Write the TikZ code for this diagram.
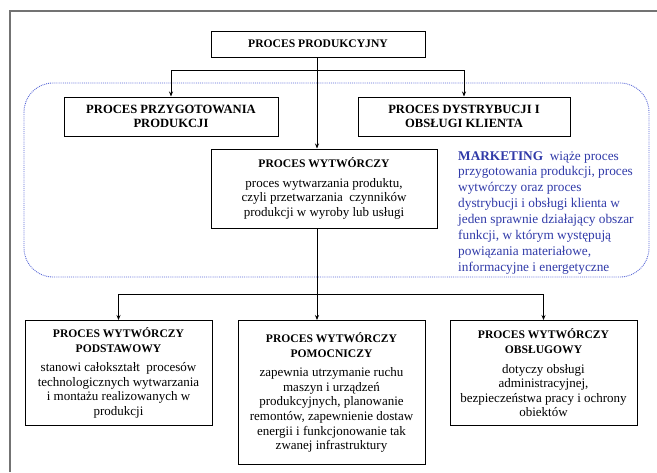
\documentclass[tikz,border=0pt]{standalone}
\usepackage{fontspec}
\setmainfont{Liberation Serif}
\usetikzlibrary{arrows.meta}

\definecolor{mktblue}{RGB}{48,58,168}
\definecolor{areablue}{RGB}{90,105,215}
\definecolor{framegray}{RGB}{115,115,115}

\newcommand{\boxhead}[1]{\textbf{\fontsize{11.6}{14.4}\selectfont #1}}

\tikzset{
	procbox/.style={draw, line width=1pt, align=center, inner sep=0pt},
	boxtitle/.style={font=\bfseries\fontsize{11.6}{14.4}\selectfont},
	boxtext/.style={font=\fontsize{13}{14.6}\selectfont},
	link/.style={line width=0.8pt, -{Stealth[length=5pt,width=4pt]}},
}

\begin{document}
\begin{tikzpicture}[x=1pt,y=-1pt]
	% page
	\useasboundingbox (0,0) rectangle (657,472);
	
	% outer frame, cut at right and bottom
	\draw[framegray, line width=1.3pt] (10,472) -- (10,11) -- (657,11);
	
	% marketing area
	\draw[areablue, densely dotted, line width=0.9pt, rounded corners=29pt] (24,83) rectangle (649,277);
	
	% top level
	\node[procbox, boxtitle, minimum width=214, minimum height=26] (prod) at (318,44) {PROCES PRODUKCYJNY};
	
	% second level
	\node[procbox, minimum width=214, minimum height=39, font=\bfseries\fontsize{12.6}{14.4}\selectfont] (przyg) at (171,116.5) {PROCES PRZYGOTOWANIA\\PRODUKCJI};
	\node[procbox, minimum width=212, minimum height=39, font=\bfseries\fontsize{12.6}{14.4}\selectfont] (dystr) at (464,116.5) {PROCES DYSTRYBUCJI I\\OBSŁUGI KLIENTA};
	\node[procbox, boxtext, minimum width=226, minimum height=79] (wytw) at (324,188.5) {\boxhead{PROCES WYTWÓRCZY}\\[5pt]
		proces wytwarzania produktu,\\
		czyli przetwarzania\ \ czynników\\
		produkcji w wyroby lub usługi};
	
	% marketing note
	\node[anchor=north west, align=left, inner sep=0pt, text=mktblue, font=\fontsize{13.3}{15.9}\selectfont] (mkt) at (458,151) {\textbf{MARKETING}\ \ wiąże proces\\
		przygotowania produkcji, proces\\
		wytwórczy oraz proces\\
		dystrybucji i obsługi klienta w\\
		jeden sprawnie działający obszar\\
		funkcji, w którym występują\\
		powiązania materiałowe,\\
		informacyjne i energetyczne};
	
	% third level
	\node[procbox, boxtext, minimum width=187, minimum height=105, anchor=north] (podst) at (118.5,320) {\boxhead{PROCES WYTWÓRCZY}\\\boxhead{PODSTAWOWY}\\[5pt]
		stanowi całokształt\ \ procesów\\
		technologicznych wytwarzania\\
		i montażu realizowanych w\\
		produkcji};
	\node[procbox, boxtext, minimum width=187, minimum height=144, anchor=north] (pomoc) at (331.5,320) {\boxhead{PROCES WYTWÓRCZY}\\\boxhead{POMOCNICZY}\\[5pt]
		zapewnia utrzymanie ruchu\\
		maszyn i urządzeń\\
		produkcyjnych, planowanie\\
		remontów, zapewnienie dostaw\\
		energii i funkcjonowanie tak\\
		zwanej infrastruktury};
	\node[procbox, boxtext, minimum width=187, minimum height=105, anchor=north] (obsl) at (543.5,320) {\boxhead{PROCES WYTWÓRCZY}\\\boxhead{OBSŁUGOWY}\\[5pt]
		dotyczy obsługi\\
		administracyjnej,\\
		bezpieczeństwa pracy i ochrony\\
		obiektów};
	
	% connectors
	\coordinate (topfork) at (317,70);
	\coordinate (lowfork) at (317,294);
	\draw[link] (prod.south -| topfork) -- (wytw.north -| topfork);
	\draw[link] (topfork) -| (przyg.north);
	\draw[link] (topfork) -| (dystr.north);
	\draw[line width=0.8pt] (wytw.south -| lowfork) -- (lowfork);
	\draw[link] (lowfork) -| (podst.north);
	\draw[link] (lowfork) -- (pomoc.north -| lowfork);
	\draw[link] (lowfork) -| (obsl.north);
\end{tikzpicture}
\end{document}
